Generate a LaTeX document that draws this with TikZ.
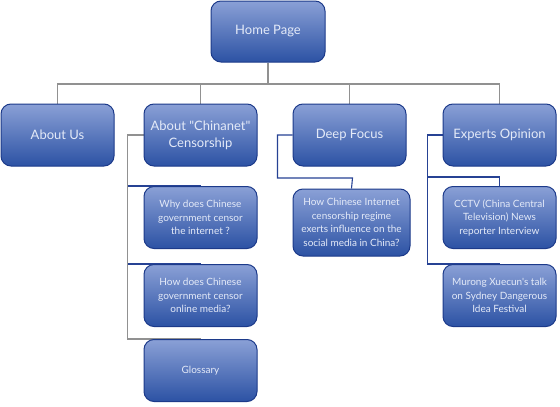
\documentclass[tikz,border=0pt]{standalone}
\usepackage{fontspec}
\setmainfont{Lato}[Ligatures=TeXOff]
\usetikzlibrary{backgrounds}
\definecolor{boxtop}{RGB}{138,160,214}
\definecolor{boxmid}{RGB}{72,108,186}
\definecolor{boxbottom}{RGB}{44,82,164}
\definecolor{boxedge}{RGB}{28,58,138}
\definecolor{boxtext}{RGB}{228,234,248}
\definecolor{trunkgray}{RGB}{145,145,145}
\definecolor{branchblue}{RGB}{38,66,148}

\begin{document}
\begin{tikzpicture}[x=1pt,y=-1pt,
    box/.style={draw=boxedge, line width=1pt, rounded corners=10pt,
        top color=boxtop, middle color=boxmid, bottom color=boxbottom,
        text=boxtext, align=center, inner sep=0pt,
        minimum width=113pt, minimum height=62pt},
    topbox/.style={box, font=\fontsize{13}{17}\selectfont},
    subbox/.style={box, font=\fontsize{10}{13.5}\selectfont},
    trunk/.style={draw=trunkgray, line width=1.1pt},
    branch/.style={draw=branchblue, line width=1.1pt}]
    \useasboundingbox (0,0) rectangle (560,407);
    % Kopf
    \node[topbox, minimum width=114pt, minimum height=61pt] (home) at (268,31.5) {Home Page};
    % Erste Ebene
    \node[topbox] (about) at (57.5,135) {About Us};
    \node[topbox] (chinanet) at (200.5,135) {About "Chinanet"\\Censorship};
    \node[topbox] (deep) at (349.5,135) {Deep Focus};
    \node[topbox] (experts) at (499.5,135) {Experts Opinion};
    % Zweite Ebene
    \node[subbox] (why) at (200.5,217.5) {Why does Chinese\\government censor\\the internet ?};
    \node[subbox] (how) at (200.5,295.5) {How does Chinese\\government censor\\online media?};
    \node[subbox] (glossary) at (200.5,370.5) {Glossary};
    \node[subbox, minimum width=117pt, minimum height=67pt] (influence) at (351.5,222.5)
        {How Chinese Internet\\censorship regime\\exerts influence on the\\social media in China?};
    \node[subbox] (cctv) at (499.5,217.5) {CCTV (China Central\\Television) News\\reporter Interview};
    \node[subbox] (murong) at (499.5,295.5) {Murong Xuecun's talk\\on Sydney Dangerous\\Idea Festival};
    % Verbindungen
    \coordinate (hub) at (268,84);
    \coordinate (dknee) at (352.5,178);
    \coordinate (cknee) at (499.5,177);
    \begin{scope}[on background layer]
        \fill[white] (0,0) rectangle (560,407);
        \draw[trunk] (home.south) -- (hub);
        \foreach \n in {about,chinanet,deep,experts}
            \draw[trunk] (hub) -| (\n.north);
        \draw[branch] (chinanet.west) ++(-16,0) coordinate (cspine) |- (why.north);
        \draw[branch] (cspine) |- (how.north);
        \draw[trunk] (chinanet.west) -- (cspine) |- (glossary.north);
        \draw[branch] (deep.west) -- ++(-15,0) |- (dknee) -- (influence.north);
        \draw[branch] (experts.west) -- ++(-15,0) coordinate (espine) |- (murong.north);
        \draw[branch] (espine) |- (cknee) -- (cctv.north);
    \end{scope}
\end{tikzpicture}
\end{document}
